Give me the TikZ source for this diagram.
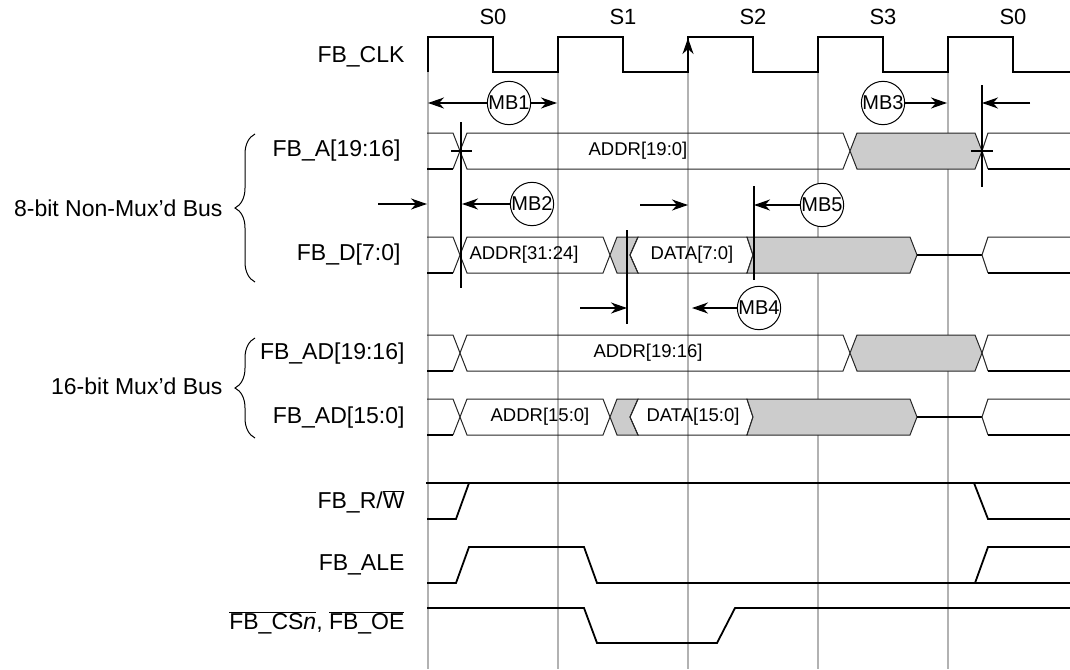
\documentclass[tikz,border=0pt]{standalone}
\usepackage{fontspec}
\setmainfont{Liberation Sans}
\usetikzlibrary{positioning}
\usetikzlibrary{arrows.meta}
\usetikzlibrary{decorations.pathreplacing}

\tikzset{
	clkline/.style={gray!60, line width=1.5},
	sig/.style={black, line width=1.8},
	bus/.style={black!85, line width=1},
	mb/.style={draw, circle, fill=white, line width=1, minimum size=43, inner sep=0, font=\fontsize{20}{22}\selectfont},
	mbarrow/.style={-{Stealth[length=16,width=11,inset=5]}, line width=1.5},
	lbl/.style={anchor=east, font=\fontsize{23}{26}\selectfont},
	stlbl/.style={font=\fontsize{22}{24}\selectfont},
	busval/.style={font=\fontsize{18.5}{20}\selectfont},
	bbrace/.style={decorate, decoration={brace, amplitude=20}, line width=1}
}

\begin{document}
\begin{tikzpicture}[x=1pt, y=-1pt]
					\useasboundingbox (0,0) rectangle (1070,669);
					% cycle lines
					\foreach \x in {428,558,688,818,948}
						\draw[clkline] (\x,72) -- (\x,669);
					% clock
					\draw[sig] (428,72) \foreach \x in {428,558,688,818,948} {-- (\x,37) -- (\x+65,37) -- (\x+65,72) -- (\x+130,72)};
					\draw[mbarrow, line width=1.8] (688,72) -- (688,38);
					\foreach \s/\x [count=\i] in {S0/493,S1/623,S2/753,S3/883,S0/1013}
						\node[stlbl] (s\i) at (\x,17) {\s};
					% signal names
					\node[lbl] (clk) at (408,57) {FB\_CLK};
					\node[lbl] (fba) at (404,151) {FB\_A[19:16]};
					\node[lbl] (fbd) at (404,255) {FB\_D[7:0]};
					\node[lbl] (fbadh) at (408,354) {FB\_AD[19:16]};
					\node[lbl] (fbadl) at (408,418) {FB\_AD[15:0]};
					\node[lbl] (fbrw) at (408,502) {FB\_R/$\overline{\mbox{W}}$};
					\node[lbl] (fbale) at (408,565) {FB\_ALE};
					\node[lbl] (fbcs) at (408,623) {$\overline{\mbox{FB\_CS\textit{n}}}$, $\overline{\mbox{FB\_OE}}$};
					% bus groups
					\draw[bbrace] (255,282) -- (255,134);
					\node[lbl] (bus8) at (226,208) {8-bit Non-Mux’d Bus};
					\draw[bbrace] (255,438) -- (255,338);
					\node[lbl] (bus16) at (226,386) {16-bit Mux’d Bus};
					% address rows
					\foreach \y in {151,353} {
						\draw[bus] (427,\y-18) -- (453,\y-18) -- (460,\y) -- (453,\y+18);
						\draw[sig] (427,\y+18) -- (453,\y+18);
						\draw[bus] (460,\y) -- (467,\y-18) -- (843,\y-18) -- (850,\y) -- (843,\y+18) -- (467,\y+18) -- cycle;
						\draw[bus, fill=black!20] (850,\y) -- (857,\y-18) -- (975,\y-18) -- (982,\y) -- (975,\y+18) -- (857,\y+18) -- cycle;
						\draw[bus] (1070,\y-18) -- (988,\y-18) -- (982,\y) -- (988,\y+18);
						\draw[sig] (988,\y+18) -- (1070,\y+18);
					}
					\node[busval] (addra) at (638,151) {ADDR[19:0]};
					\node[busval] (addrh) at (648,353) {ADDR[19:16]};
					% data rows
					\foreach \y in {255,417} {
						\draw[bus] (427,\y-18) -- (453,\y-18) -- (460,\y) -- (453,\y+18);
						\draw[sig] (427,\y+18) -- (453,\y+18);
						\draw[bus] (460,\y) -- (467,\y-18) -- (603,\y-18) -- (610,\y) -- (603,\y+18) -- (467,\y+18) -- cycle;
						\draw[bus, fill=black!20] (610,\y) -- (617,\y-18) -- (638,\y-18) -- (630,\y) -- (638,\y+18) -- (617,\y+18) -- cycle;
						\draw[bus] (630,\y) -- (638,\y-18) -- (747,\y-18) -- (753,\y) -- (747,\y+18) -- (638,\y+18) -- cycle;
						\draw[bus, fill=black!20] (753,\y) -- (747,\y-18) -- (910,\y-18) -- (917,\y) -- (910,\y+18) -- (747,\y+18) -- cycle;
						\draw[sig] (917,\y) -- (982,\y);
						\draw[bus] (1070,\y-18) -- (988,\y-18) -- (982,\y) -- (988,\y+18);
						\draw[sig] (988,\y+18) -- (1070,\y+18);
					}
					\node[busval] (addrd) at (524,255) {ADDR[31:24]};
					\node[busval] (datad) at (692,255) {DATA[7:0]};
					\node[busval] (addrl) at (540,417) {ADDR[15:0]};
					\node[busval] (datal) at (693,417) {DATA[15:0]};
					% MB1
					\node[mb] (mb1) at (509,103) {MB1};
					\coordinate (mb1a) at (428,103);
					\coordinate (mb1b) at (557,103);
					\draw[mbarrow] (mb1) -- (mb1a);
					\draw[mbarrow] (mb1) -- (mb1b);
					% MB3
					\node[mb] (mb3) at (883,103) {MB3};
					\coordinate (mb3a) at (947,103);
					\coordinate (mb3t) at (982,85);
					\coordinate (mb3b) at (982,187);
					\coordinate (mb3s) at (1030,103);
					\draw[mbarrow] (mb3) -- (mb3a);
					\draw[sig] (mb3t) -- (mb3b);
					\draw[mbarrow] (mb3s) -- (mb3t |- mb3s);
					\draw[sig] (971,151) -- (993,151);
					% MB2
					\node[mb] (mb2) at (532,204) {MB2};
					\coordinate (mb2t) at (461,122);
					\coordinate (mb2b) at (461,288);
					\coordinate (mb2s) at (378,204);
					\coordinate (mb2e) at (427,204);
					\draw[sig] (mb2t) -- (mb2b);
					\draw[sig] (451,151) -- (472,151);
					\draw[mbarrow] (mb2s) -- (mb2e);
					\draw[mbarrow] (mb2) -- (462,204);
					% MB5
					\node[mb] (mb5) at (822,205) {MB5};
					\coordinate (mb5s) at (640,205);
					\coordinate (mb5e) at (688,205);
					\coordinate (mb5t) at (754,186);
					\coordinate (mb5b) at (754,280);
					\draw[mbarrow] (mb5s) -- (mb5e);
					\draw[sig] (mb5t) -- (mb5b);
					\draw[mbarrow] (mb5) -- (mb5t |- mb5);
					% MB4
					\node[mb] (mb4) at (759,308) {MB4};
					\coordinate (mb4t) at (627,230);
					\coordinate (mb4b) at (627,324);
					\coordinate (mb4s) at (580,308);
					\coordinate (mb4e) at (692,308);
					\draw[sig] (mb4t) -- (mb4b);
					\draw[mbarrow] (mb4s) -- (mb4t |- mb4s);
					\draw[mbarrow] (mb4) -- (mb4e);
					% control signals
					\draw[sig] (426,483) -- (1070,483);
					\draw[sig] (427,519) -- (456,519) -- (469,483);
					\draw[sig] (974,483) -- (988,519) -- (1070,519);
					\draw[sig] (427,583) -- (456,583) -- (469,547) -- (584,547) -- (597,583) -- (1070,583);
					\draw[sig] (975,583) -- (988,547) -- (1070,547);
					\draw[sig] (427,608) -- (584,608) -- (597,643) -- (717,643) -- (735,608) -- (1070,608);
				\end{tikzpicture}
\end{document}
